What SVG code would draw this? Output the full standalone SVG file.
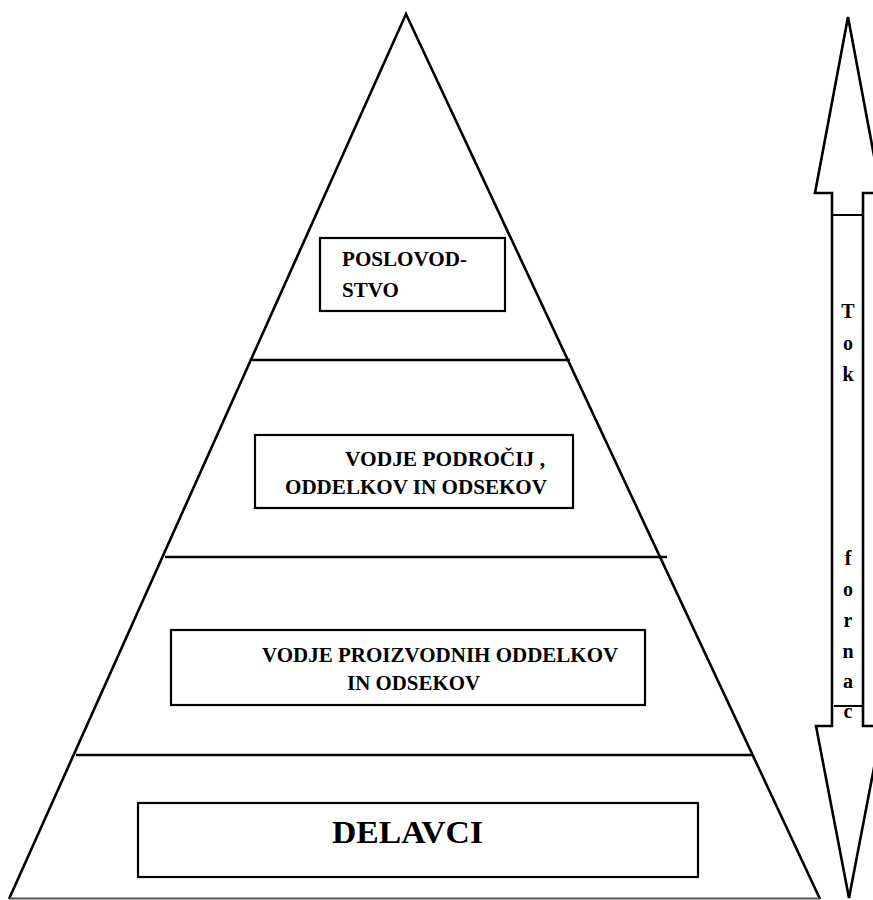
<svg xmlns="http://www.w3.org/2000/svg" width="873" height="900" viewBox="0 0 873 900">
<style>
.ln{fill:none;stroke:#000;stroke-width:2.6;stroke-linejoin:miter}
.box{fill:#fff;stroke:#000;stroke-width:2.2}
.t{font-family:"Liberation Serif","Times New Roman",serif;font-weight:bold;font-size:21px;fill:#000}
.big{font-size:32px}
.v{font-family:"Liberation Serif","Times New Roman",serif;font-weight:bold;font-size:20px;fill:#000;text-anchor:middle}
</style>
<rect width="873" height="900" fill="#fff"/>
<g id="pyramid">
<polyline class="ln" points="9,899 406,14 820,899"/>
<line class="ln" x1="252" y1="360" x2="570" y2="360"/>
<line class="ln" x1="165" y1="557" x2="667" y2="557"/>
<line class="ln" x1="76" y1="755" x2="752" y2="755"/>
<line x1="9" y1="898.5" x2="820" y2="898.5" stroke="#555" stroke-width="2"/>
</g>
<g id="node-poslovodstvo">
<rect class="box" x="320" y="238" width="185" height="73"/>
<text class="t" x="342" y="266" textLength="125" lengthAdjust="spacingAndGlyphs">POSLOVOD-</text>
<text class="t" x="342" y="297">STVO</text>
</g>
<g id="node-vodje-podrocij">
<rect class="box" x="255" y="435" width="318" height="73"/>
<text class="t" x="345" y="466" textLength="200" lengthAdjust="spacingAndGlyphs">VODJE PODROČIJ ,</text>
<text class="t" x="285" y="494" textLength="262" lengthAdjust="spacingAndGlyphs">ODDELKOV IN ODSEKOV</text>
</g>
<g id="node-vodje-proizvodnih">
<rect class="box" x="171" y="630" width="474" height="75"/>
<text class="t" x="262" y="662">VODJE PROIZVODNIH ODDELKOV</text>
<text class="t" x="347" y="690" textLength="133" lengthAdjust="spacingAndGlyphs">IN ODSEKOV</text>
</g>
<g id="node-delavci">
<rect class="box" x="138" y="803" width="560" height="74"/>
<text class="t big" x="332" y="843" textLength="151" lengthAdjust="spacingAndGlyphs">DELAVCI</text>
</g>
<g id="connectors">
<path class="ln" d="M832,706 L832,193 L815,193 L848,17 L881,193 L863,193 L863,726 L882,726 L849,898 L816,726 L832,726 Z"/>
<line x1="832" y1="215" x2="863" y2="215" stroke="#000" stroke-width="2"/>
<line x1="834" y1="706" x2="863" y2="706" stroke="#000" stroke-width="2"/>
<text class="v" x="848" y="318">T</text>
<text class="v" x="848" y="350">o</text>
<text class="v" x="848" y="381">k</text>
<text class="v" x="848" y="565">f</text>
<text class="v" x="848" y="596">o</text>
<text class="v" x="848" y="627">r</text>
<text class="v" x="848" y="658">n</text>
<text class="v" x="848" y="688">a</text>
<text class="v" x="848" y="718">c</text>
</g>
</svg>
